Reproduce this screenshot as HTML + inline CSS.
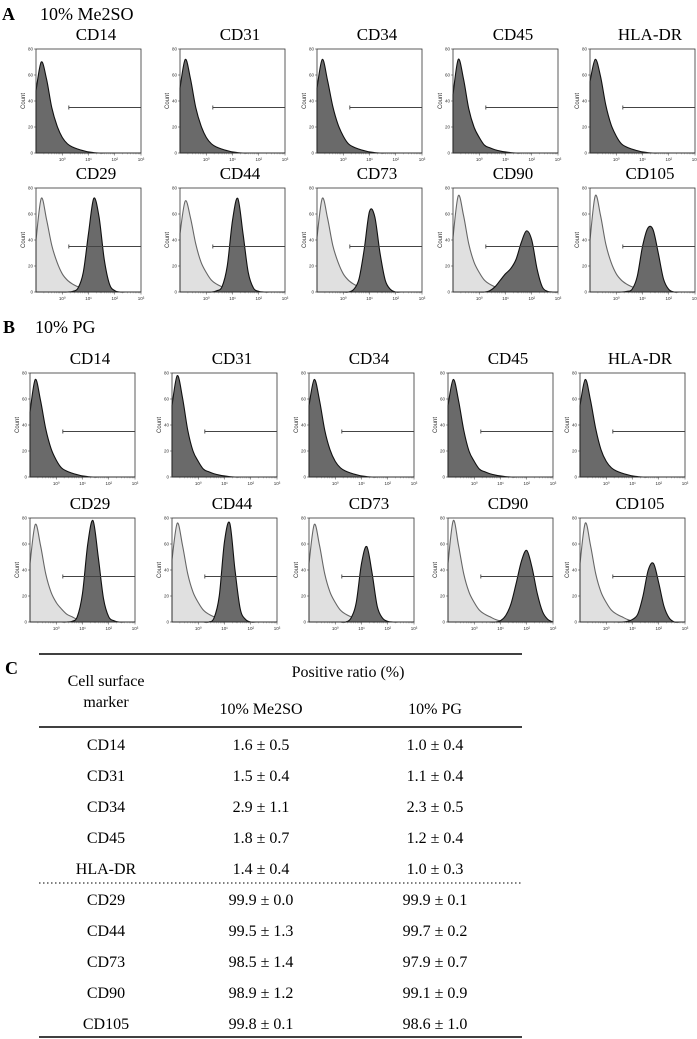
<!DOCTYPE html>
<html><head><meta charset="utf-8"><style>
html,body{margin:0;padding:0;background:#fff;}
svg{display:block;}
text{font-family:"Liberation Serif",serif;}
.sm{font-family:"Liberation Sans",sans-serif;font-size:4.5px;fill:#333;}
</style></head><body>
<svg id="fig" width="697" height="1039" viewBox="0 0 697 1039">
<text x="2" y="20" font-size="18" font-weight="bold">A</text>
<text x="40" y="20" font-size="18">10% Me2SO</text>
<text x="3" y="333" font-size="18" font-weight="bold">B</text>
<text x="35" y="333" font-size="18">10% PG</text>
<g id="hists"></g>
<g id="table"></g>
</svg>
<script>
// log10 bin grid (-1 .. 3, step 0.2)
const logBins=[-1.0,-0.8,-0.6,-0.4,-0.2,0.0,0.2,0.4,0.6,0.8,1.0,1.2,1.4,1.6,1.8,2.0,2.2,2.4,2.6,2.8,3.0];
const markers=["CD14","CD31","CD34","CD45","HLA-DR","CD29","CD44","CD73","CD90","CD105"];
const yTicks=[0,20,40,60,80];
const xTickLabels=["10⁰","10¹","10²","10³"];
const xTickLogs=[0,1,2,3];
const gateStart=0.25;
const gateLevel=35;
// Panel A (Me2SO) negative marker stains
const aNeg=[
[48,70,57,35,21,12,7,4.5,3,1.8,0.8,0.3,0,0,0,0,0,0,0,0,0],
[50,72,57,35,21,12,7,4.5,3,1.8,0.8,0.3,0,0,0,0,0,0,0,0,0],
[50,72,56,36,22,13,7,4.5,3,1.8,0.8,0.3,0,0,0,0,0,0,0,0,0],
[45,72,57,34,20,12,6,4,2.5,1.5,0.8,0.3,0,0,0,0,0,0,0,0,0],
[55,72,59,37,22,13,7,4.5,3,1.8,0.8,0.3,0,0,0,0,0,0,0,0,0]];
const aCtrl=[
[40,72,56,36,23,14,9,6,4,2,0.8,0.2,0,0,0,0,0,0,0,0,0],
[45,70,57,37,23,15,9,6,4,2,0.8,0.2,0,0,0,0,0,0,0,0,0],
[42,72,57,36,23,14,9,6,4,2,0.8,0.2,0,0,0,0,0,0,0,0,0],
[42,74,59,37,23,15,9,6,4,2,0.8,0.2,0,0,0,0,0,0,0,0,0],
[40,74,59,37,23,14,9,6,4,2,0.8,0.2,0,0,0,0,0,0,0,0,0]];
const aPos=[
[0,0,0,0,0,0,0,0.5,3,15,45,72,58,25,6,1,0,0,0,0,0],
[0,0,0,0,0,0,0,1,4,20,55,72,45,15,3,0.5,0,0,0,0,0],
[0,0,0,0,0,0,0,2,10,33,62,58,30,9,2,0,0,0,0,0,0],
[0,0,0,0,0,0,0,1,4,9,14,18,25,38,47,40,18,4,0.5,0,0],
[0,0,0,0,0,0,0,0.5,2,12,35,49,48,30,10,2,0,0,0,0,0]];
// Panel B (PG)
const bNeg=[
[50,75,59,37,22,13,7,4.5,3,1.8,0.8,0.3,0,0,0,0,0,0,0,0,0],
[55,78,61,36,20,12,6,4,2.5,1.5,0.8,0.3,0,0,0,0,0,0,0,0,0],
[55,75,59,36,21,12,7,4.5,3,1.8,0.8,0.3,0,0,0,0,0,0,0,0,0],
[55,75,59,36,20,12,6,4,2.5,1.5,0.8,0.3,0,0,0,0,0,0,0,0,0],
[55,75,59,37,21,12,7,4.5,3,1.8,0.8,0.3,0,0,0,0,0,0,0,0,0]];
const bCtrl=[
[45,75,59,37,23,15,10,6,4,2,0.8,0.2,0,0,0,0,0,0,0,0,0],
[48,76,59,37,23,15,9,6,4,2,0.8,0.2,0,0,0,0,0,0,0,0,0],
[45,75,59,37,23,15,9,6,4,2,0.8,0.2,0,0,0,0,0,0,0,0,0],
[45,78,59,37,23,15,9,6,4,2,0.8,0.2,0,0,0,0,0,0,0,0,0],
[45,76,59,37,23,15,9,6,4,2,0.8,0.2,0,0,0,0,0,0,0,0,0]];
const bPos=[
[0,0,0,0,0,0,0,0,0.5,4,22,60,78,50,18,4,1,0,0,0,0],
[0,0,0,0,0,0,0,0,3,20,62,76,40,10,2,0,0,0,0,0,0],
[0,0,0,0,0,0,0,0,3,15,45,58,38,12,3,0.5,0,0,0,0,0],
[0,0,0,0,0,0,0,0,0,0,1,5,14,30,47,55,42,22,8,2,0],
[0,0,0,0,0,0,0,0,0,0.5,2,6,20,40,45,30,12,3,0,0,0]];
// table data
const tableMarkers=markers;
const me2soMean=["1.6","1.5","2.9","1.8","1.4","99.9","99.5","98.5","98.9","99.8"];
const me2soSd=["0.5","0.4","1.1","0.7","0.4","0.0","1.3","1.4","1.2","0.1"];
const pgMean=["1.0","1.1","2.3","1.2","1.0","99.9","99.7","97.9","99.1","98.6"];
const pgSd=["0.4","0.4","0.5","0.4","0.3","0.1","0.2","0.7","0.9","1.0"];

const NS="http://www.w3.org/2000/svg";
function mk(tag,attrs,parent){const e=document.createElementNS(NS,tag);for(const k in attrs)e.setAttribute(k,attrs[k]);parent.appendChild(e);return e;}
const W=105,H=104;
const aLefts=[36,180,317,453,590],bLefts=[30,172,309,448,580];
const rowsTop=[[49,188],[373,518]];
function smoothPath(pts){
  let d="M"+pts[0][0]+","+pts[0][1];
  for(let i=0;i<pts.length-1;i++){
    const p0=pts[Math.max(0,i-1)],p1=pts[i],p2=pts[i+1],p3=pts[Math.min(pts.length-1,i+2)];
    const c1x=p1[0]+(p2[0]-p0[0])/6,c1y=p1[1]+(p2[1]-p0[1])/6;
    const c2x=p2[0]-(p3[0]-p1[0])/6,c2y=p2[1]-(p3[1]-p1[1])/6;
    d+=" C"+c1x.toFixed(2)+","+c1y.toFixed(2)+" "+c2x.toFixed(2)+","+c2y.toFixed(2)+" "+p2[0].toFixed(2)+","+p2[1].toFixed(2);
  }
  return d;
}
const root=document.getElementById("hists");
function drawPanel(x0,y0,name,curves,id){
  const g=mk("g",{},root);
  
  
  const xs=v=>x0+(v-logBins[0])/(logBins[logBins.length-1]-logBins[0])*W;
  const ys=v=>y0+H-Math.min(v,80)/80*H;
  const t=mk("text",{x:x0+60,y:y0-9,"font-size":"17","text-anchor":"middle"},g);
  t.textContent=name;
  
  
  curves.forEach(c=>{
    const pts=logBins.map((b,i)=>[xs(b),ys(c.vals[i])]);
    const d=smoothPath(pts)+" L"+xs(logBins[logBins.length-1])+","+ys(0)+" L"+xs(logBins[0])+","+ys(0)+" Z";
    const p=mk("path",{d:d,fill:c.fill,stroke:c.stroke,"stroke-width":"1.1"},g);
    
    
  });
  const box=mk("rect",{x:x0,y:y0,width:W,height:H,fill:"none",stroke:"#333","stroke-width":"0.8"},g);
  
  
  yTicks.forEach(v=>{
    mk("line",{x1:x0-2,x2:x0,y1:ys(v),y2:ys(v),stroke:"#333","stroke-width":"0.5"},g);
    const tl=mk("text",{x:x0-3,y:ys(v)+1.5,"text-anchor":"end",class:"sm"},g);tl.textContent=v;
    
    
  });
  xTickLogs.forEach((v,i)=>{
    mk("line",{x1:xs(v),x2:xs(v),y1:ys(0),y2:ys(0)+2.5,stroke:"#333","stroke-width":"0.5"},g);
    for(let k=2;k<10;k++){const lv=v-1+Math.log10(k);if(lv>logBins[0])mk("line",{x1:xs(lv),x2:xs(lv),y1:ys(0),y2:ys(0)+1.3,stroke:"#555","stroke-width":"0.4"},g);}
    const tl=mk("text",{x:xs(v),y:ys(0)+8,"text-anchor":"middle",class:"sm"},g);tl.textContent=xTickLabels[i];
    
    
  });
  const cl=mk("text",{x:0,y:0,"text-anchor":"middle",class:"sm",style:"font-size:6px",transform:"translate("+(x0-11)+","+(y0+H/2)+") rotate(-90)"},g);
  cl.textContent="Count";
  
  
  const gy=ys(gateLevel);
  const gl=mk("path",{d:"M"+xs(gateStart)+","+gy+" H"+(x0+W)+" M"+xs(gateStart)+","+(gy-2)+" V"+(gy+2),stroke:"#444","stroke-width":"0.9",fill:"none"},g);
  
  
}
[[aLefts,rowsTop[0],aNeg,aCtrl,aPos,"a"],[bLefts,rowsTop[1],bNeg,bCtrl,bPos,"b"]].forEach(([lefts,tops,neg,ctrl,pos,s])=>{
  for(let i=0;i<5;i++){
    drawPanel(lefts[i],tops[0],markers[i],[{vals:neg[i],fill:"#6a6a6a",stroke:"#111",kind:"stained-histogram"}],"histogram-"+s+"-"+markers[i].toLowerCase());
    drawPanel(lefts[i],tops[1],markers[i+5],[{vals:ctrl[i],fill:"#e0e0e0",stroke:"#666",kind:"control-histogram"},{vals:pos[i],fill:"#6a6a6a",stroke:"#111",kind:"stained-histogram"}],"histogram-"+s+"-"+markers[i+5].toLowerCase());
  }
});
// table
const tg=document.getElementById("table");
function txt(x,y,s,name,extra){const e=mk("text",Object.assign({x:x,y:y,"font-size":"16","text-anchor":"middle"},extra||{}),tg);e.textContent=s;return e;}
txt(5,674,"C","panel-c-letter",{"text-anchor":"start","font-weight":"bold","font-size":"18"});
mk("line",{x1:39,x2:522,y1:654,y2:654,stroke:"#000","stroke-width":"1.6"},tg);
mk("line",{x1:39,x2:522,y1:727,y2:727,stroke:"#000","stroke-width":"1.6"},tg);
mk("line",{x1:39,x2:522,y1:883,y2:883,stroke:"#000","stroke-width":"1","stroke-dasharray":"1.5,2.5"},tg);
mk("line",{x1:39,x2:522,y1:1037,y2:1037,stroke:"#000","stroke-width":"1.6"},tg);
txt(348,677,"Positive ratio (%)","header-positive-ratio");
txt(106,686,"Cell surface","header-marker");
txt(106,707,"marker","header-marker-2");
txt(261,714,"10% Me2SO","header-me2so");
txt(435,714,"10% PG","header-pg");
tableMarkers.forEach((m,i)=>{
  const y=750+i*31;
  txt(106,y,m,"row-marker");
  txt(261,y,me2soMean[i]+" ± "+me2soSd[i],"cell-me2so");
  txt(435,y,pgMean[i]+" ± "+pgSd[i],"cell-pg");
});
</script>
</body></html>
